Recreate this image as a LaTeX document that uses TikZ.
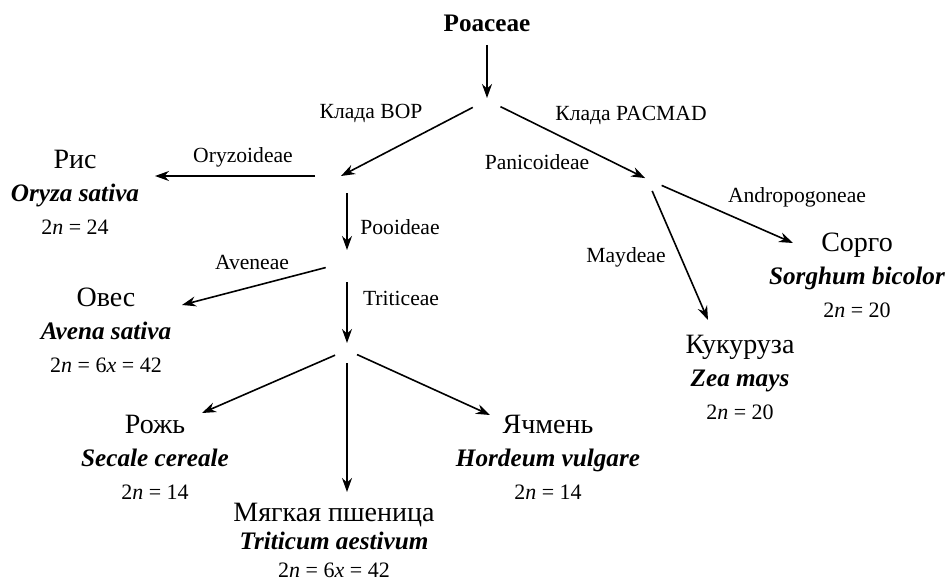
\documentclass[tikz,border=0pt]{standalone}
\usepackage{fontspec}
\setmainfont{Liberation Serif}
\usetikzlibrary{calc, arrows.meta}
\newcommand{\latname}[1]{{\fontsize{12.6}{16.5}\selectfont\bfseries\itshape #1}}
\newcommand{\chromo}[1]{{\fontsize{11}{16.5}\selectfont 2\textit{n} = #1}}

\begin{document}
\begin{tikzpicture}[
  x=0.5pt, y=-0.5pt,
  root/.style={font=\fontsize{12.6}{15}\selectfont\bfseries, inner sep=0pt},
  taxon/.style={
    anchor=north, align=center, inner sep=0pt,
    font=\fontsize{14}{16.5}\selectfont
  },
  tribe/.style={font=\fontsize{10.8}{13}\selectfont, inner sep=0pt},
  arr/.style={-{Stealth[length=7pt, width=5pt]}, line width=0.8pt}
]
  \useasboundingbox (0,0) rectangle (947,583);
  \node[root] (poaceae) at (487,23) {Poaceae};
  \node[taxon] (rice) at (75,150) {Рис\\\latname{Oryza sativa}\\\chromo{24}};
  \node[taxon] (oats) at (106,288) {Овес\\\latname{Avena sativa}\\\chromo{6\textit{x} = 42}};
  \node[taxon] (rye) at (155,415) {Рожь\\\latname{Secale cereale}\\\chromo{14}};
  \node[taxon, font=\fontsize{14}{14}\selectfont] (wheat) at (334,503) {Мягкая пшеница\\\latname{Triticum aestivum}\\\chromo{6\textit{x} = 42}};
  \node[taxon] (barley) at (548,415) {Ячмень\\\latname{Hordeum vulgare}\\\chromo{14}};
  \node[taxon] (maize) at (740,335) {Кукуруза\\\latname{Zea mays}\\\chromo{20}};
  \node[taxon] (sorghum) at (857,233) {Сорго\\\latname{Sorghum bicolor}\\\chromo{20}};
  % branch points
  \coordinate (j0) at (487,100);
  \coordinate (j1) at (341,176);
  \coordinate (j2) at (347,262);
  \coordinate (j3) at (347,350);
  \coordinate (j4) at (647,179);
  \draw[arr, shorten <=6.5pt, shorten >=1pt] (poaceae) -- (j0);
  \draw[arr, shorten <=8pt] (j0) -- (j1);
  \draw[arr, shorten <=7.5pt, shorten >=1pt] (j0) -- (j4);
  \draw[arr, shorten <=13pt] (j1) -- ($(rice.north)+(80,26)$);
  \draw[arr, shorten <=8.5pt, shorten >=6pt] (j2 |- j1) -- (j2);
  \draw[arr, shorten <=11pt] (j2) -- ($(oats.north)+(76,17)$);
  \draw[arr, shorten <=10pt, shorten >=3.5pt] (j2) -- (j3);
  \draw[arr, shorten <=6.5pt] (j3) -- ($(rye.north)+(47,-2)$);
  \draw[arr, shorten <=6.5pt, shorten >=5.5pt] (j3) -- (j3 |- wheat.north);
  \draw[arr, shorten <=5.5pt] (j3) -- ($(barley.north)+(-58,0)$);
  \draw[arr, shorten <=8pt] (j4) -- ($(sorghum.north)+(-64,10)$);
  \draw[arr, shorten <=6.5pt] (j4) -- ($(maize.north)+(-32,-15)$);
  % subfamilies and tribes
  \node[tribe] (bop) at (371,113) {Клада BOP};
  \node[tribe] (pacmad) at (631,115) {Клада PACMAD};
  \node[tribe] (panic) at (537,162) {Panicoideae};
  \node[tribe] (oryz) at (243,157) {Oryzoideae};
  \node[tribe] (pooid) at (400,227) {Pooideae};
  \node[tribe] (aven) at (252,262) {Aveneae};
  \node[tribe] (tritic) at (401,298) {Triticeae};
  \node[tribe] (mayd) at (626,257) {Maydeae};
  \node[tribe] (andro) at (797,197) {Andropogoneae};
\end{tikzpicture}
\end{document}
